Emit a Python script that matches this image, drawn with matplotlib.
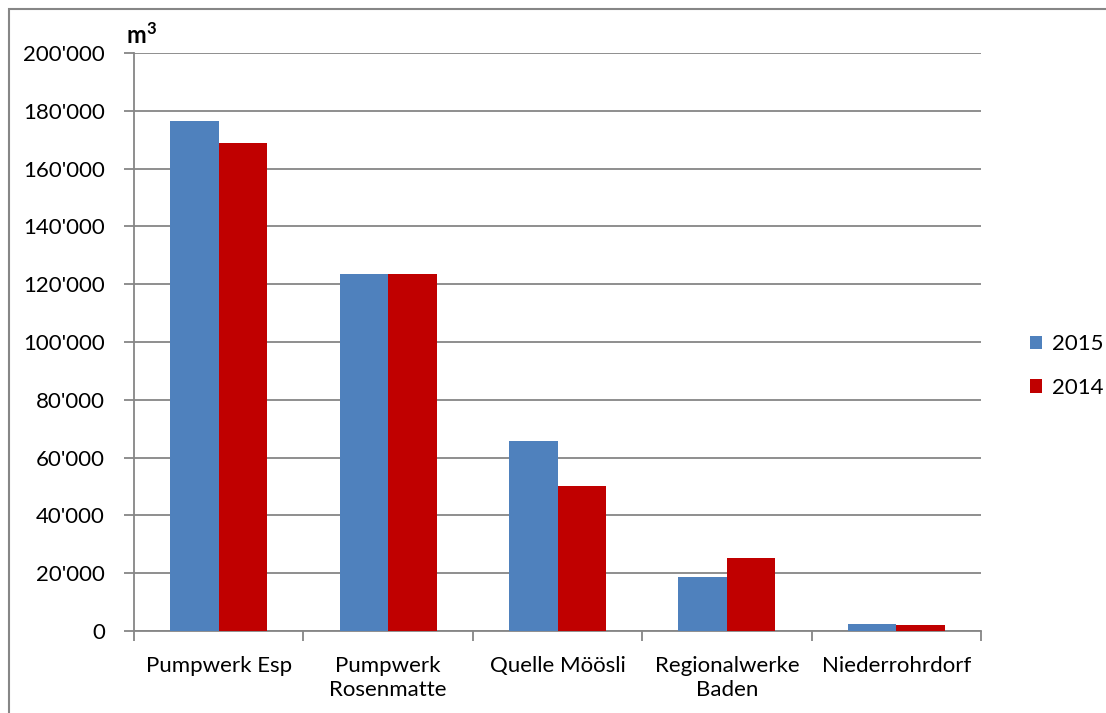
import matplotlib.pyplot as plt
import numpy as np
from matplotlib.patches import Rectangle
from matplotlib.ticker import FuncFormatter

# data
categories = ["Pumpwerk Esp", "Pumpwerk\nRosenmatte", "Quelle Möösli",
              "Regionalwerke\nBaden", "Niederrohrdorf"]
values_2015 = [176500, 123500, 65700, 18800, 2500]
values_2014 = [168900, 123500, 50200, 25300, 2100]
series_labels = ["2015", "2014"]

plt.rcParams['font.family'] = ['Lato', 'DejaVu Sans']
grey = '#868686'
fs = 16

fig = plt.figure(figsize=(11.06, 7.13), dpi=100)
ax = fig.add_axes([134 / 1106, 1 - 631 / 713, (981 - 134) / 1106, (631 - 53) / 713])

x = np.arange(len(categories))
w = 0.286
ax.bar(x - w / 2, values_2015, w, color='#4F81BD', label=series_labels[0], zorder=3)
ax.bar(x + w / 2, values_2014, w, color='#C00000', label=series_labels[1], zorder=3)

ax.set_xlim(-0.5, len(categories) - 0.5)
ax.set_ylim(0, 200000)
ax.set_yticks(np.arange(0, 200001, 20000))
ax.yaxis.set_major_formatter(FuncFormatter(lambda v, p: f"{int(v):,}".replace(",", "'")))
ax.yaxis.grid(True, color=grey, linewidth=1.3, zorder=0)

ax.set_xticks(x)
ax.set_xticklabels(categories, fontsize=fs, linespacing=1.25)
ax.set_xticks(np.arange(-0.5, len(categories)), minor=True)
ax.tick_params(axis='x', which='major', length=0, pad=18)
ax.tick_params(axis='x', which='minor', length=7, color=grey, width=1.3)
ax.tick_params(axis='y', length=7, color=grey, width=1.3, labelsize=fs, pad=14)

for s in ['top', 'right']:
    ax.spines[s].set_visible(False)
for s in ['left', 'bottom']:
    ax.spines[s].set_color(grey)
    ax.spines[s].set_linewidth(1.3)

# unit label
ax.text(-0.009, 1.01, "m", transform=ax.transAxes, fontsize=17, fontweight='bold',
        ha='left', va='bottom')
ax.text(0.0145, 1.028, "3", transform=ax.transAxes, fontsize=12, fontweight='bold',
        ha='left', va='bottom')

fig.legend(loc='center left', bbox_to_anchor=(1010 / 1106, 1 - 366 / 713), frameon=False,
           fontsize=fs, handlelength=0.55, handleheight=0.55, handletextpad=0.45,
           labelspacing=1.05)

# outer chart border
fig.patches.append(Rectangle((9 / 1106, -0.05), 1.1, 1.05 - 9 / 713, transform=fig.transFigure,
                             fill=False, edgecolor=grey, linewidth=1.5))

fig.savefig("out.png", dpi=100)
